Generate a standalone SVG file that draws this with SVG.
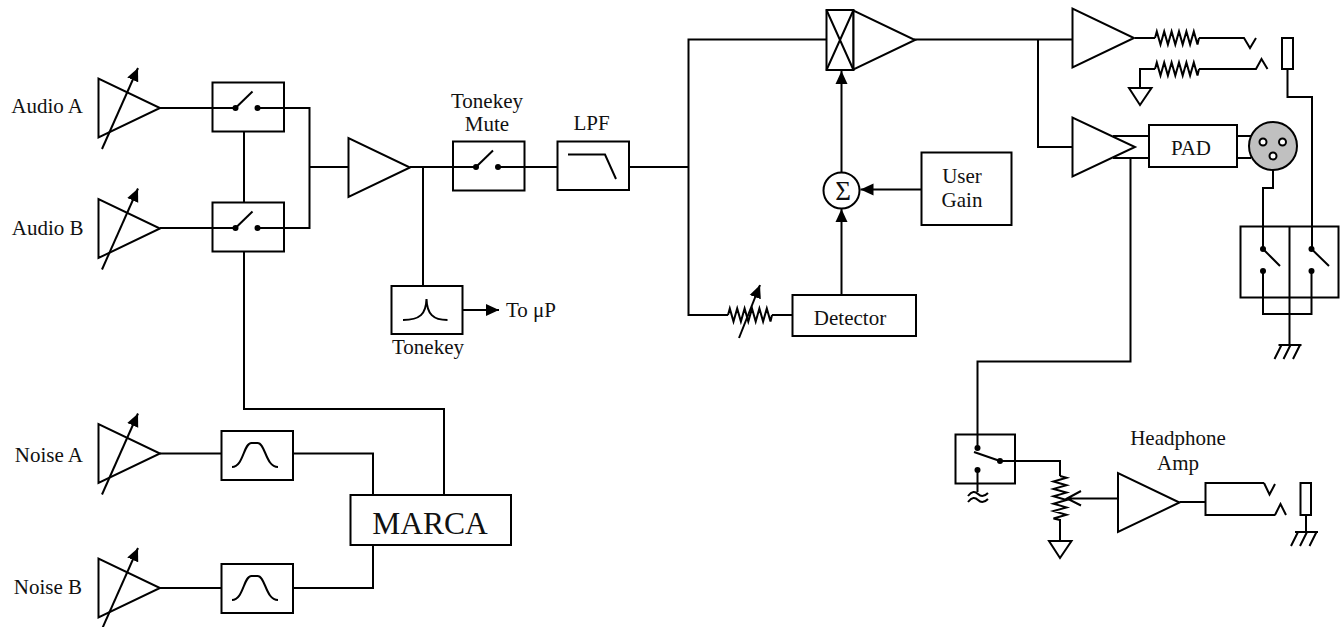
<svg xmlns="http://www.w3.org/2000/svg" xmlns:xlink="http://www.w3.org/1999/xlink" width="1343" height="627" viewBox="0 0 1343 627">
<style>
.l{fill:none;stroke:#000;stroke-width:2;stroke-linejoin:miter}
.b{fill:#fff;stroke:#000;stroke-width:2}
.f{fill:#000;stroke:none}
text{font-family:"Liberation Serif","Times New Roman",serif;font-size:21px;fill:#111}
.c{text-anchor:middle}
.e{text-anchor:end}
</style>
<defs>
<marker id="ah" markerUnits="userSpaceOnUse" markerWidth="14" markerHeight="14" refX="13" refY="7" orient="auto"><path d="M0,1 L13,7 L0,13 z" fill="#000"/></marker>
<path id="res" class="l" d="M0 0 L1.8 -6.5 L5.5 6.5 L9.2 -6.5 L12.9 6.5 L16.6 -6.5 L20.3 6.5 L24 -6.5 L27.7 6.5 L31.4 -6.5 L35.1 6.5 L38.8 -6.5 L42.5 6.5 L44 0"/>
<path id="tri" class="b" d="M0,-29.5 L0,29.5 L61.5,0 z"/>
<g id="varamp"><use href="#tri"/><path class="l" d="M3.5,41 L39.5,-40" marker-end="url(#ah)"/></g>
<g id="sw"><rect class="b" x="0" y="0" width="71.5" height="49"/><circle class="f" cx="23" cy="25.5" r="3"/><circle class="f" cx="45" cy="25.5" r="3"/><path class="l" d="M23,25.5 L40,9"/></g>
<g id="bp"><rect class="b" x="0" y="0" width="71.5" height="49"/><path class="l" d="M10.5,36 C22,36 22,12 30,12 L36,12 C44,12 44,36 56.500,36"/></g>
<path id="gnd" class="l" d="M-11,0 L11.500,0 L0,17 z"/>
<path id="chassis" class="l" d="M-11,0 L12,0 M-8,0 L-15,14 M1,0 L-6,14 M10.500,0 L3.500,14"/>
</defs>

<g id="amp-audio-a"><use href="#varamp" x="98.500" y="108"/></g>
<g id="amp-audio-b"><use href="#varamp" x="98.500" y="228.500"/></g>
<g id="switch-a"><use href="#sw" x="212.500" y="82.500"/></g>
<g id="switch-b"><use href="#sw" x="212.500" y="202.500"/></g>
<g id="amp-sum"><use href="#tri" x="348.500" y="167.500"/></g>
<g id="tonekey-mute"><text class="c" x="487" y="108">Tonekey</text><text class="c" x="487" y="131">Mute</text><use href="#sw" x="453" y="141.500"/></g>
<g id="lpf"><text class="c" x="591.500" y="130">LPF</text><rect class="b" x="557.500" y="141.500" width="71.500" height="48.500"/><path class="l" d="M568,154.500 L605,154.500 L616,179"/></g>
<g id="tonekey"><rect class="b" x="391.500" y="286" width="71" height="48"/><path class="l" d="M403,320 C420,320 426,314 426.500,299 C427,314 433,320 447.500,320"/><text class="c" x="428" y="354">Tonekey</text></g>
<g id="vca-switch"><rect class="b" x="826.500" y="10" width="27" height="60"/><path class="l" d="M826.500,10 L853.500,70 M853.500,10 L826.500,70"/></g>
<g id="amp-main"><use href="#tri" x="853.500" y="40"/></g>
<g id="sum"><circle class="b" cx="841.500" cy="190.500" r="18"/><text class="c" x="843" y="200" style="font-size:27px">Σ</text></g>
<g id="user-gain"><rect class="b" x="921.500" y="152.500" width="90" height="72.500"/><text class="c" x="962" y="183">User</text><text class="c" x="962" y="207">Gain</text></g>
<g id="detector"><rect class="b" x="792.500" y="295" width="123.500" height="41"/><text class="c" x="850" y="325">Detector</text></g>
<g id="var-res"><use href="#res" x="728" y="315"/></g>
<g id="amp-out"><use href="#tri" x="1072.500" y="38"/></g>
<g id="res-out1"><use href="#res" x="1155" y="38"/></g>
<g id="res-out2"><use href="#res" x="1155" y="69"/></g>
<g id="gnd-out"><use href="#gnd" x="1140" y="88"/></g>
<g id="jack-sleeve"><rect class="b" x="1282" y="38" width="11" height="31"/></g>
<g id="pad"><rect class="b" x="1149" y="125" width="88" height="42"/><text class="c" x="1191" y="155">PAD</text></g>
<g id="xlr"><circle cx="1273" cy="146" r="24" fill="#c0c0c0" stroke="#000" stroke-width="2"/><circle class="b" cx="1263" cy="142" r="3.500"/><circle class="b" cx="1282.500" cy="142" r="3.500"/><circle class="b" cx="1273" cy="156" r="3.500"/></g>
<g id="chassis-1"><use href="#chassis" x="1289.500" y="345"/></g>
<g id="gnd-pot"><use href="#gnd" x="1060" y="541"/></g>
<g id="pot"><use href="#res" transform="translate(1060,476) rotate(90)"/></g>
<g id="headphone-amp"><text class="c" x="1178" y="445">Headphone</text><text class="c" x="1178" y="470">Amp</text><use href="#tri" x="1118" y="502.500"/></g>
<g id="hp-sleeve"><rect class="b" x="1300.500" y="483" width="10.500" height="32"/></g>
<g id="chassis-2"><use href="#chassis" x="1306" y="532"/></g>
<g id="amp-noise-a"><use href="#varamp" x="98.500" y="453.500"/></g>
<g id="bp-a"><use href="#bp" x="221.500" y="431"/></g>
<g id="amp-noise-b"><use href="#varamp" x="98.500" y="588"/></g>
<g id="bp-b"><use href="#bp" x="221.500" y="564"/></g>
<g id="marca"><rect class="b" x="350.500" y="495" width="160.500" height="50"/><text class="c" x="430" y="534" style="font-size:31.500px">MARCA</text></g>

<g id="connectors">
<path class="l" d="M160,108 L235,108 M257,108 L309.500,108 L309.500,228 L257,228 M160,228 L235,228 M309.500,167 L348.500,167"/>
<path class="l" d="M244,131 L244,202.500 M244,251 L244,409 L444,409 L444,495"/>
<path class="l" d="M410,167 L475.500,167 M498,167 L557.500,167 M423,167 L423,286 M629,167 L689,167"/>
<path class="l" d="M462.500,310 L499,310" marker-end="url(#ah)"/>
<path class="l" d="M826.500,39.500 L688.500,39.500 L688.500,315 L728,315 M772,315 L792.500,315"/>
<path class="l" d="M914,39.500 L1072.500,39.500 M1038,39.500 L1038,147 L1072.500,147"/>
<path class="l" d="M841.500,172.500 L841.500,71" marker-end="url(#ah)"/>
<path class="l" d="M841.500,295 L841.500,209" marker-end="url(#ah)"/>
<path class="l" d="M921.500,189.500 L860.500,189.500" marker-end="url(#ah)"/>
<path class="l" d="M739,338 L760,285" marker-end="url(#ah)"/>
<path class="l" d="M1135,38 L1155,38 M1199,38 L1244,38 L1250,48 L1256,38 M1140,88 L1140,69 L1155,69 M1199,69 L1256,69 L1261.500,59 L1267.500,69"/>
<path class="l" d="M1287.500,69 L1287.500,97 L1312,97 L1312,249"/>
<path class="l" d="M1113,136 L1149,136 M1113,158 L1149,158 M1237,136 L1251,136 M1237,158 L1251,158"/>
<path class="l" d="M1130.500,158 L1130.500,361.500 L977.500,361.500 L977.500,448"/>
<path class="l" d="M1273,170 L1273,188 L1263,188 L1263,249"/>
<path class="l" d="M1263,271 L1263,314 L1311.500,314 L1311.500,271 M1289.500,297.500 L1289.500,345"/>
<path class="l" d="M977.500,470 L977.500,492 M1000,461 L1060,461 L1060,476 M1060,519 L1060,541"/>
<path class="l" d="M1118,498.500 L1067,498.500 M1081,491 L1067,498.500 L1081,505.500"/>
<path class="l" d="M1179.500,502 L1205.500,502 M1264,483 L1205.500,483 L1205.500,515 L1275,515 M1264,483 L1269.500,494.500 L1275,484 M1275,515 L1280.500,504 L1286,515"/>
<path class="l" d="M1306,515 L1306,532"/>
<path class="l" d="M160,453.500 L221.500,453.500 M293,453.500 L373,453.500 L373,495 M160,588 L221.500,588 M293,588 L373,588 L373,545"/>
</g>

<g id="label-audio-a"><text class="e" x="83" y="113">Audio A</text></g>
<g id="label-audio-b"><text class="e" x="83.500" y="235">Audio B</text></g>
<g id="to-up"><text x="506" y="317">To μP</text></g>
<g id="amp-bal"><path class="l" d="M1072.500,117.500 L1072.500,176.500 L1135,147 z"/></g>
<g id="relay"><rect class="l" x="1240.500" y="226.500" width="98" height="71"/><path class="l" d="M1289.500,226.500 L1289.500,297.500 M1263,249 L1280,266 M1311.500,249 L1329,266"/><circle class="f" cx="1263" cy="249" r="3"/><circle class="f" cx="1311.500" cy="249" r="3"/><circle class="f" cx="1263" cy="271" r="3"/><circle class="f" cx="1311.500" cy="271" r="3"/></g>
<g id="hp-switch"><rect class="l" x="955.500" y="434.500" width="59.500" height="49"/><circle class="f" cx="977.500" cy="448" r="3"/><circle class="f" cx="1000" cy="461" r="3"/><circle class="f" cx="977.500" cy="470" r="3"/><path class="l" d="M974,452 L1000,461 M968,496 C972,491 975,491 978,494 C981,497 984,497 988,493 M968,502 C972,497 975,497 978,500 C981,503 984,503 988,499"/></g>
<g id="label-noise-a"><text class="e" x="83" y="462">Noise A</text></g>
<g id="label-noise-b"><text class="e" x="82" y="594">Noise B</text></g>
</svg>
